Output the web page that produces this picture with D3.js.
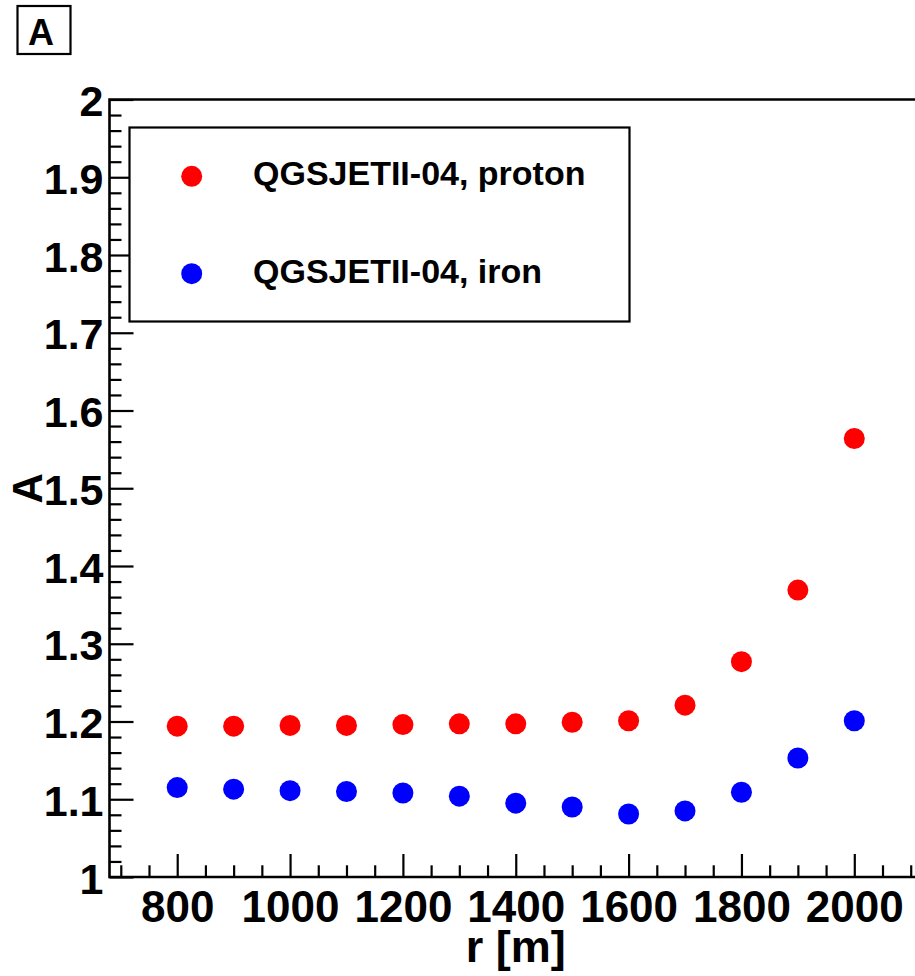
<!DOCTYPE html>
<html>
<head>
<meta charset="utf-8">
<script src="https://cdn.jsdelivr.net/npm/d3@7"></script>
<style>
  html, body { margin: 0; padding: 0; background: #fff; }
  svg { display: block; }
  text { font-family: "Liberation Sans", Arial, Helvetica, sans-serif; font-weight: bold; fill: #000; }
</style>
</head>
<body>
<svg id="chart" width="915" height="976"></svg>
<script>
// Radial distances of the stations [m]
const radii = [800, 900, 1000, 1100, 1200, 1300, 1400, 1500, 1600, 1700, 1800, 1900, 2000];
// Parameter A for QGSJETII-04 proton showers
const protonA = [1.194, 1.194, 1.195, 1.195, 1.196, 1.197, 1.197, 1.199, 1.201, 1.221, 1.277, 1.369, 1.564];
// Parameter A for QGSJETII-04 iron showers
const ironA = [1.115, 1.113, 1.111, 1.110, 1.108, 1.104, 1.095, 1.090, 1.081, 1.085, 1.109, 1.153, 1.201];
const xTickLabels = [800, 1000, 1200, 1400, 1600, 1800, 2000];
const yTickLabels = [1, 1.1, 1.2, 1.3, 1.4, 1.5, 1.6, 1.7, 1.8, 1.9, 2];
const seriesNames = ["QGSJETII-04, proton", "QGSJETII-04, iron"];
const seriesColors = ["#ff0000", "#0000ff"];

const svg = d3.select("#chart");

const frame = { left: 109.5, right: 922, top: 99.5, bottom: 877 };

const x = d3.scaleLinear().domain([680, 2120]).range([frame.left, frame.right]);
const y = d3.scaleLinear().domain([1, 2]).range([frame.bottom, frame.top]);

// Minor and major ticks pointing into the frame
const xMinor = d3.range(700, 2120, 50).filter(v => v % 200 !== 0);
const yMinor = d3.range(1, 2.0001, 0.02).map(v => +v.toFixed(2)).filter(v => Math.abs(v * 10 - Math.round(v * 10)) > 1e-6);

function styleAxis(g) {
  g.select(".domain").remove();
  g.selectAll(".tick line").attr("stroke", "#000").attr("stroke-width", 2.2);
}

svg.append("g")
  .attr("transform", `translate(0,${frame.bottom})`)
  .call(d3.axisBottom(x).tickValues(xMinor).tickSizeInner(-11.7).tickSizeOuter(0).tickFormat(""))
  .call(styleAxis);

const gx = svg.append("g")
  .attr("transform", `translate(0,${frame.bottom})`)
  .call(d3.axisBottom(x).tickValues(xTickLabels).tickSizeInner(-23).tickSizeOuter(0).tickFormat(d3.format("d")))
  .call(styleAxis);
gx.selectAll(".tick text")
  .attr("y", 45).attr("dy", 0)
  .attr("font-size", 44).attr("font-family", null).attr("fill", "#000");

svg.append("g")
  .attr("transform", `translate(${frame.left},0)`)
  .call(d3.axisLeft(y).tickValues(yMinor).tickSizeInner(-12).tickSizeOuter(0).tickFormat(""))
  .call(styleAxis);

const gy = svg.append("g")
  .attr("transform", `translate(${frame.left},0)`)
  .call(d3.axisLeft(y).tickValues(yTickLabels).tickSizeInner(-24).tickSizeOuter(0).tickFormat(d => d3.format("~g")(d)))
  .call(styleAxis);
gy.selectAll(".tick text")
  .attr("x", -6).attr("dy", 16)
  .attr("font-size", 43).attr("font-family", null).attr("fill", "#000");

// Frame lines
svg.append("path")
  .attr("d", `M${frame.right},${frame.top}H${frame.left}V${frame.bottom}H${frame.right}`)
  .attr("fill", "none").attr("stroke", "#000").attr("stroke-width", 2.6);

// Data markers
const series = [protonA, ironA];
series.forEach((vals, i) => {
  svg.append("g").selectAll("circle")
    .data(vals.map((v, j) => ({ r: radii[j], a: v })))
    .join("circle")
    .attr("cx", d => x(d.r))
    .attr("cy", d => y(d.a))
    .attr("r", 10.5)
    .attr("fill", seriesColors[i]);
});

// Axis titles
svg.append("text")
  .attr("x", (frame.left + frame.right) / 2).attr("y", 962)
  .attr("text-anchor", "middle").attr("font-size", 45)
  .text("r [m]");

svg.append("text")
  .attr("transform", `translate(42,${(frame.top + frame.bottom) / 2}) rotate(-90)`)
  .attr("text-anchor", "middle").attr("font-size", 42)
  .text("A");

// Legend
const legend = svg.append("g");
legend.append("rect")
  .attr("x", 129.5).attr("y", 127.5).attr("width", 500).attr("height", 194)
  .attr("fill", "#fff").attr("stroke", "#000").attr("stroke-width", 2.2);
const legendRows = [176.3, 273.7];
seriesNames.forEach((name, i) => {
  legend.append("circle")
    .attr("cx", 191.7).attr("cy", legendRows[i]).attr("r", 10.5)
    .attr("fill", seriesColors[i]);
  legend.append("text")
    .attr("x", 253).attr("y", legendRows[i] + 9)
    .attr("font-size", 34)
    .text(name);
});

// Panel label
svg.append("rect")
  .attr("x", 17.5).attr("y", 6).attr("width", 53).attr("height", 48)
  .attr("fill", "#fff").attr("stroke", "#000").attr("stroke-width", 2.2);
svg.append("text")
  .attr("x", 41).attr("y", 45)
  .attr("text-anchor", "middle").attr("font-size", 36)
  .text("A");
</script>
</body>
</html>
